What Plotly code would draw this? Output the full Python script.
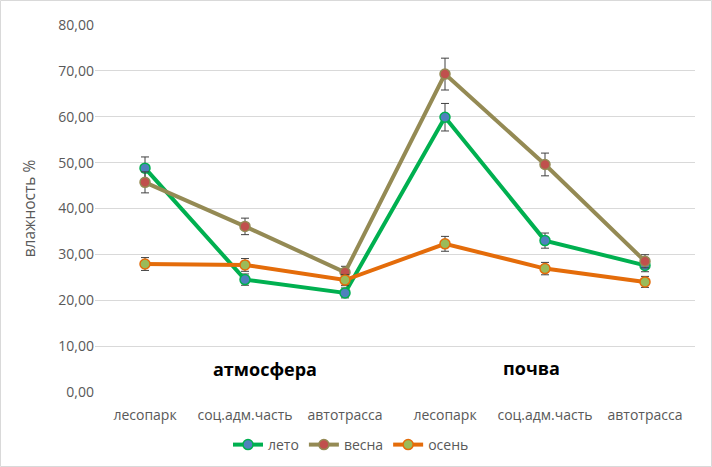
import plotly.graph_objects as go

categories = ["лесопарк", "соц.адм.часть", "автотрасса", "лесопарк", "соц.адм.часть", "автотрасса"]
leto = [48.8, 24.5, 21.6, 59.9, 33.0, 27.6]
vesna = [45.7, 36.1, 26.1, 69.3, 49.6, 28.5]
osen = [27.9, 27.7, 24.4, 32.3, 26.9, 24.0]
leto_err = [2.44, 1.23, 1.08, 3.0, 1.65, 1.38]
vesna_err = [2.29, 1.8, 1.3, 3.47, 2.48, 1.43]
osen_err = [1.4, 1.39, 1.22, 1.62, 1.35, 1.2]
group_labels = ["атмосфера", "почва"]
y_ticks = [0, 10, 20, 30, 40, 50, 60, 70, 80]

x = list(range(len(categories)))

series = [
    ("лето", leto, leto_err, "#00B050", "#4F81BD"),
    ("весна", vesna, vesna_err, "#948A54", "#C0504D"),
    ("осень", osen, osen_err, "#E46C0A", "#9BBB59"),
]

fig = go.Figure()
for name, vals, err, lc, mc in series:
    fig.add_trace(go.Scatter(
        x=x, y=vals, name=name, mode="lines+markers",
        line=dict(color=lc, width=4),
        marker=dict(color=mc, size=10, line=dict(color=lc, width=1.5)),
        error_y=dict(type="data", array=err, visible=True, color="#404040", thickness=1, width=4),
    ))

W, H = 712, 467
L, R, T, B = 95, 17, 25, 75
pw, ph = W - L - R, H - T - B

fig.update_layout(
    width=W, height=H,
    margin=dict(l=L, r=R, t=T, b=B, autoexpand=False),
    paper_bgcolor="white", plot_bgcolor="white",
    font=dict(family="Open Sans", size=13, color="#595959"),
    showlegend=True,
    legend=dict(orientation="h", x=(351 - L) / pw, xanchor="center", y=-53 / ph, yanchor="middle",
                font=dict(size=14, color="#595959"), tracegroupgap=0),
    xaxis=dict(range=[-0.5, 5.5], tickvals=x, ticktext=categories, showgrid=False, zeroline=False,
               showline=False, ticks="outside", ticklen=10, tickcolor="rgba(0,0,0,0)",
               automargin=False, tickfont=dict(size=14, color="#595959")),
    yaxis=dict(range=[0, 80], tickvals=y_ticks, ticktext=[f"{v:.2f}".replace(".", ",") for v in y_ticks],
               showgrid=True, gridcolor="#D9D9D9", gridwidth=1, zeroline=False, showline=False, ticks="",
               automargin=False, tickfont=dict(size=14, color="#595959"),
               title=dict(text="влажность %", font=dict(size=15.5, color="#595959"), standoff=18)),
    annotations=[
        dict(x=1.2, y=5.0, xref="x", yref="y", text="<b>" + group_labels[0] + "</b>", showarrow=False,
             font=dict(size=18, color="black", family="Open Sans")),
        dict(x=3.86, y=5.2, xref="x", yref="y", text="<b>" + group_labels[1] + "</b>", showarrow=False,
             font=dict(size=18, color="black", family="Open Sans")),
    ],
    shapes=[dict(type="rect", xref="paper", yref="paper",
                 x0=(-L + 0.5) / pw, x1=1 + (R - 0.5) / pw, y0=(-B + 0.5) / ph, y1=1 + (T - 0.5) / ph,
                 line=dict(color="#D9D9D9", width=1), layer="below")],
)

fig.write_html("out.html", config={"displayModeBar": False},
               post_script="document.body.style.margin='0';")
